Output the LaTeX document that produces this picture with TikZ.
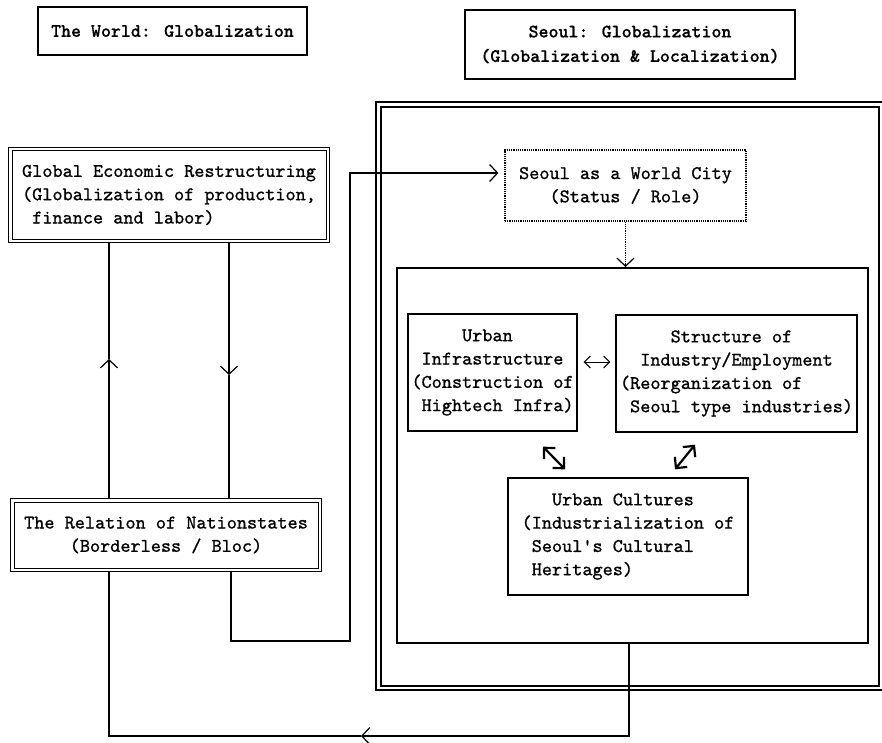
\documentclass[tikz,border=0pt]{standalone}
\usepackage{fontspec}
\newfontfamily\bodytt{lmmono10-regular}[Extension=.otf, FakeBold=0.9]
\newfontfamily\titlett{lmmonolt10-bold}[Extension=.otf, FakeBold=0.6]
\usetikzlibrary{arrows.meta,calc}
\tikzset{
  vbarb/.tip={Straight Barb[length=8pt,width=17pt]},
  dbarb/.tip={Straight Barb[length=8pt,width=16pt]},
  hbarb/.tip={Straight Barb[length=6pt,width=12pt]},
  txt/.style={font=\bodytt\fontsize{19.3}{23.3}\selectfont, inner sep=0pt},
  titlebox/.style={draw, line width=1.4pt, font=\titlett\fontsize{19}{24.5}\selectfont, align=center, inner sep=0pt},
  dblbox/.style={txt, draw, double, double distance=2.5pt, line width=1pt, outer sep=2.25pt},
  plainbox/.style={txt, draw, line width=1.4pt},
  dotbox/.style={txt, draw, densely dotted, line width=1.2pt},
  conn/.style={line width=1.2pt},
}
\begin{document}
\begin{tikzpicture}[x=1pt,y=-1pt]
\useasboundingbox (0,0) rectangle (882,743);

% titles
\node[titlebox, minimum width=269pt, minimum height=48pt] (t1) at (172.5,31) {The World: Globalization};
\node[titlebox, minimum width=330pt, minimum height=69pt] (t2) at (630,44.5) {Seoul: Globalization\\(Globalization \& Localization)};

% Seoul frame (double)
\draw[line width=1.5pt] (376,102) rectangle (886,690);
\draw[line width=1.2pt] (381,107) rectangle (879,686);

% left side boxes
\node[dblbox, align=left, minimum width=317.5pt, minimum height=91.5pt] (ger) at (169,195)
  {Global Economic Restructuring\\(Globalization of production,\\~finance and labor)};
\node[dblbox, align=center, minimum width=307.5pt, minimum height=69.5pt] (rel) at (166,535)
  {The Relation of Nationstates\\(Borderless / Bloc)};

% right side
\node[dotbox, align=center, minimum width=241pt, minimum height=71pt] (swc) at (625.5,185.5)
  {Seoul as a World City\\(Status / Role)};
\node[draw, line width=2pt, minimum width=471pt, minimum height=375pt, inner sep=0pt] (inner) at (632.5,455.5) {};

\node[plainbox, align=left, minimum width=169pt, minimum height=117pt] (infra) at (492.5,372.5)
  {~~~~~Urban\\~Infrastructure\\(Construction of\\~Hightech Infra)};
\node[plainbox, align=left, minimum width=241pt, minimum height=117pt] (struct) at (736.5,373.5)
  {~~~~~Structure of\\~~Industry/Employment\\(Reorganization of\\~Seoul type industries)};
\node[plainbox, align=left, minimum width=240pt, minimum height=117pt] (cult) at (628,536.5)
  {~~~Urban Cultures\\(Industrialization of\\~Seoul's Cultural\\~Heritages)};

% connectors between GER and Relation
\coordinate (upt) at (109,359);
\coordinate (dnt) at (229,375);
\draw[conn,-vbarb] (rel.north -| upt) -- (upt);
\draw[conn] (upt) -- (ger.south -| upt);
\draw[conn,-vbarb] (ger.south -| dnt) -- (dnt);
\draw[conn] (dnt) -- (rel.north -| dnt);

% Relation -> Seoul as a World City
\coordinate (r1) at (231,641);
\coordinate (r2) at (350,641);
\coordinate (r3) at (350,173);
\draw[conn,-vbarb,shorten >=6pt] (rel.south -| r1) -- (r1) -- (r2) -- (r3) -- (swc.west |- r3);

% Seoul as a World City -> inner
\draw[conn,densely dotted,-vbarb] (swc.south) -- (swc.south |- inner.north);

% feedback inner -> Relation
\coordinate (fbc) at (629,736);
\coordinate (fba) at (361,736);
\coordinate (fbl) at (109,736);
\draw[conn,-vbarb] (inner.south -| fbc) -- (fbc) -- (fba);
\draw[conn] (fba) -- (fbl) -- (rel.south -| fbl);

% internal arrows
\coordinate (ha) at ($(infra.east)+(6,-10.5)$);
\coordinate (hb) at ($(struct.west |- ha)+(-5,0)$);
\draw[line width=1pt,hbarb-hbarb] (ha) -- (hb);

\coordinate (d1a) at ($(infra.south)+(50.5,15)$);
\coordinate (d1b) at ($(cult.north)+(-63,-8)$);
\draw[line width=2.2pt,dbarb-dbarb] (d1a) -- (d1b);
\coordinate (d2a) at ($(struct.south)+(-41.5,12)$);
\coordinate (d2b) at ($(cult.north)+(47,-8)$);
\draw[line width=2.2pt,dbarb-dbarb] (d2a) -- (d2b);
\end{tikzpicture}
\end{document}
